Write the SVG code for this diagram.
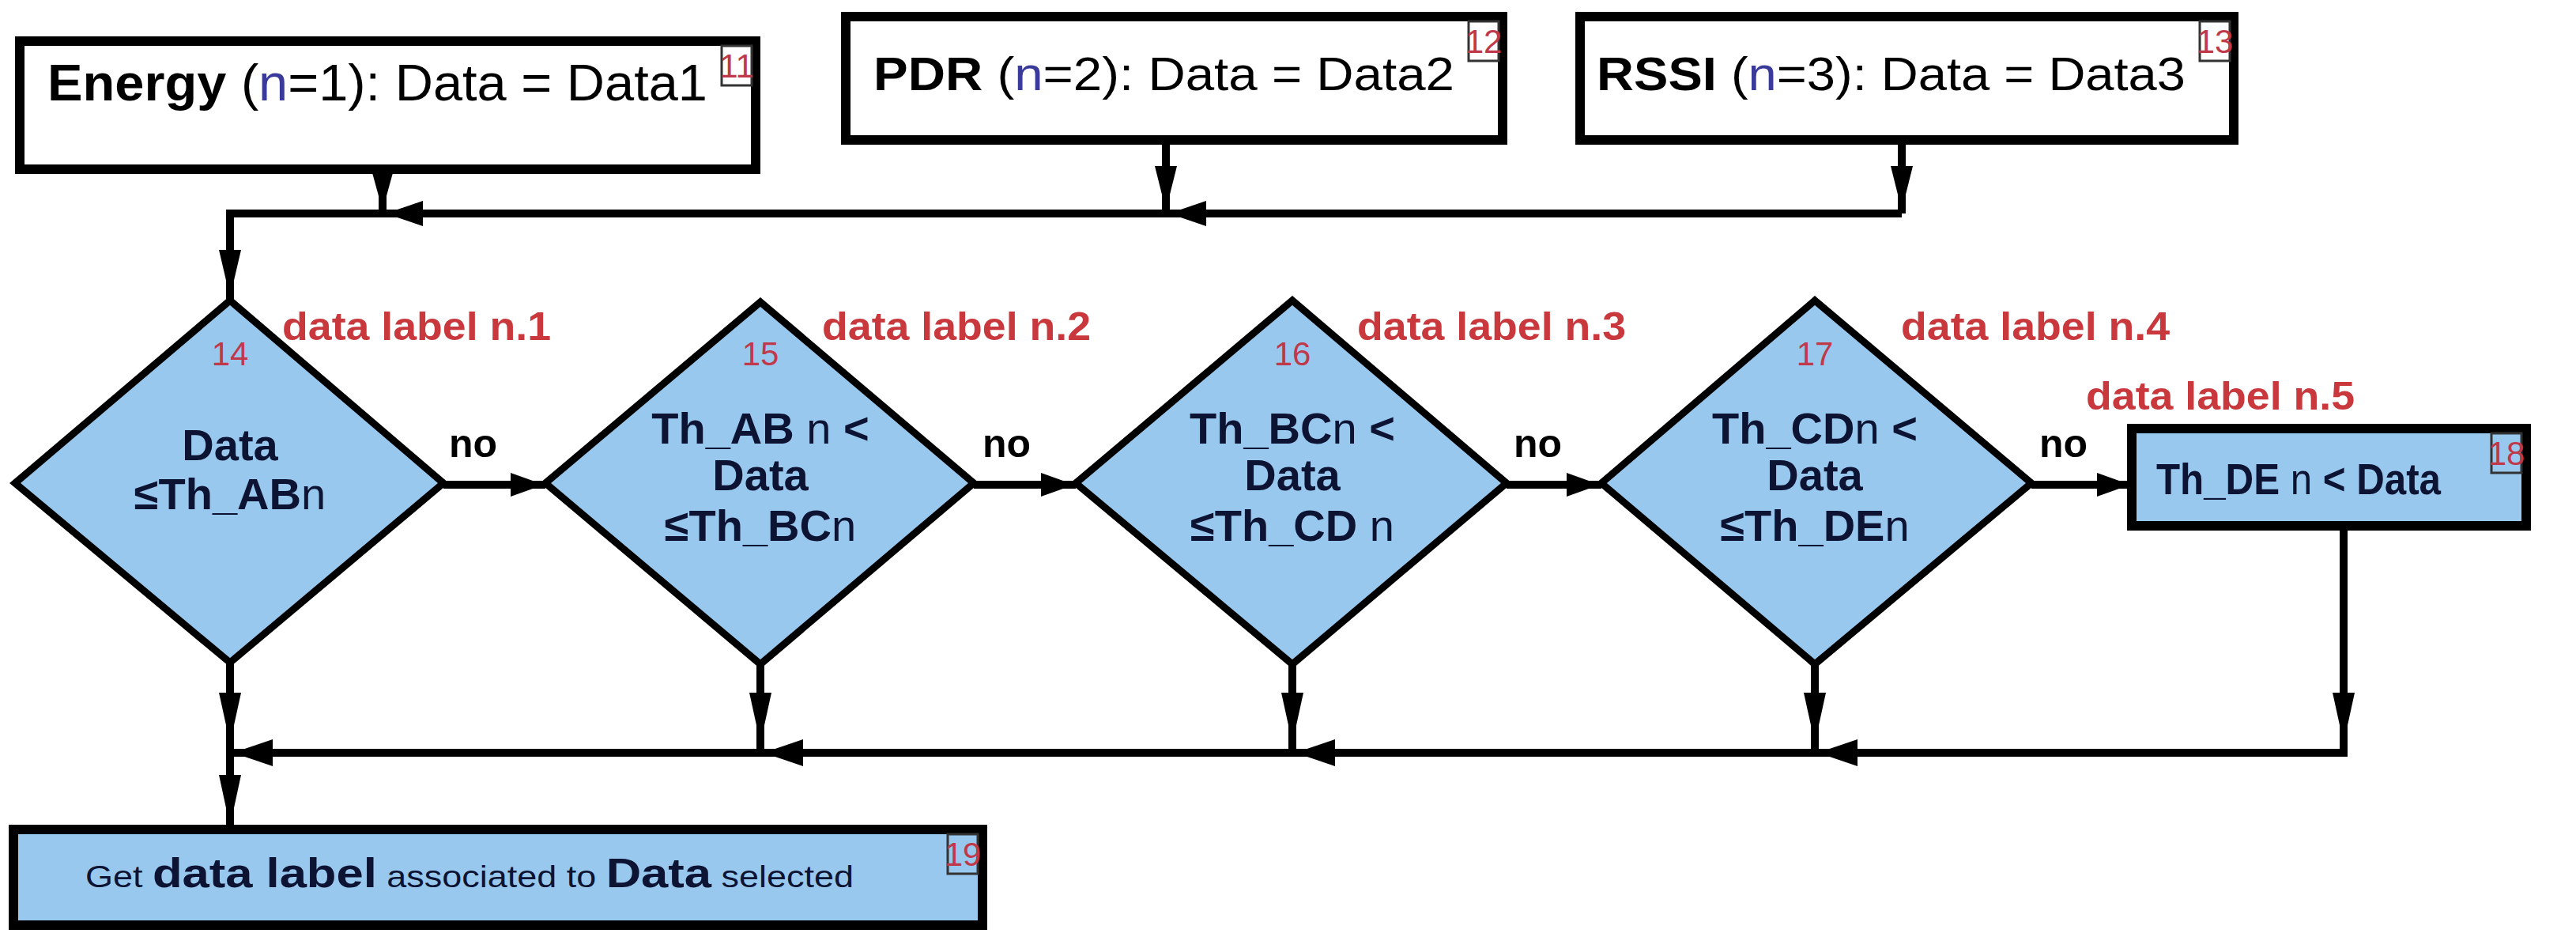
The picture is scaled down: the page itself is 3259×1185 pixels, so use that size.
<svg xmlns="http://www.w3.org/2000/svg" width="3259" height="1185" viewBox="0 0 3259 1185">
<style>
text{font-family:"Liberation Sans",Arial,sans-serif}
.box{fill:#fff;stroke:#000;stroke-width:12}
.bbox{fill:#99c8ee;stroke:#000;stroke-width:12}
.dia{fill:#99c8ee;stroke:#000;stroke-width:9}
.tag{fill:none;stroke:#333;stroke-width:3}
.tn{fill:#c0394a;font-size:42px;text-anchor:middle}
.dl{fill:#c8383c;font-size:50px;font-weight:bold}
.dt{fill:#0d1433;font-size:56px;font-weight:bold;text-anchor:middle}
.dts{fill:#0d1433;font-size:56px;font-weight:bold}
.nb{font-weight:normal}
.no{font-size:50px;font-weight:bold}
.c{fill:none;stroke:#000;stroke-width:10}
.ah{fill:#000}
</style>
<g id="connectors">
<path class="c" d="M484,214 V270 M1475,177 V270 M2406,177 V270 M2406,270 H291 V378"/>
<path class="c" d="M561,613 H690 M1232,613 H1361 M1906,613 H2026 M2570,613 H2697"/>
<path class="c" d="M291,836 V1049 M962,840 V952 M1635,840 V952 M2296,840 V952 M2965,665 V952 H291"/>
<polygon class="ah" points="470,215 498,215 484,266"/>
<polygon class="ah" points="1461,210 1489,210 1475,266"/>
<polygon class="ah" points="2392,210 2420,210 2406,266"/>
<polygon class="ah" points="488,270 535,254 535,286"/>
<polygon class="ah" points="1479,270 1526,254 1526,286"/>
<polygon class="ah" points="277,316 305,316 291,376"/>
<polygon class="ah" points="688,613 646,598 646,628"/>
<polygon class="ah" points="1359,613 1317,598 1317,628"/>
<polygon class="ah" points="2024,613 1982,598 1982,628"/>
<polygon class="ah" points="2695,613 2653,598 2653,628"/>
<polygon class="ah" points="277,876 305,876 291,940"/>
<polygon class="ah" points="948,876 976,876 962,940"/>
<polygon class="ah" points="1621,876 1649,876 1635,940"/>
<polygon class="ah" points="2282,876 2310,876 2296,940"/>
<polygon class="ah" points="2951,876 2979,876 2965,940"/>
<polygon class="ah" points="295,952 345,935 345,969"/>
<polygon class="ah" points="966,952 1016,935 1016,969"/>
<polygon class="ah" points="1639,952 1689,935 1689,969"/>
<polygon class="ah" points="2300,952 2350,935 2350,969"/>
<polygon class="ah" points="277,980 305,980 291,1045"/>
<text class="no" x="568" y="578">no</text>
<text class="no" x="1243" y="578">no</text>
<text class="no" x="1915" y="578">no</text>
<text class="no" x="2580" y="578">no</text>
</g>
<g id="n11">
<rect class="box" x="25" y="52" width="931" height="162"/>
<text x="60" y="127" font-size="64" textLength="835" lengthAdjust="spacingAndGlyphs"><tspan font-weight="bold">Energy</tspan> (<tspan fill="#3a3a9a">n</tspan>=1): Data = Data1</text>
<rect class="tag" x="913" y="58" width="38" height="50"/><text class="tn" x="932" y="98">11</text>
</g>
<g id="n12">
<rect class="box" x="1070" y="21" width="831" height="156"/>
<text x="1105" y="114" font-size="60" textLength="735" lengthAdjust="spacingAndGlyphs"><tspan font-weight="bold">PDR</tspan> (<tspan fill="#3a3a9a">n</tspan>=2): Data = Data2</text>
<rect class="tag" x="1858" y="27" width="38" height="50"/><text class="tn" x="1877" y="67">12</text>
</g>
<g id="n13">
<rect class="box" x="1999" y="21" width="827" height="156"/>
<text x="2020" y="114" font-size="60" textLength="745" lengthAdjust="spacingAndGlyphs"><tspan font-weight="bold">RSSI</tspan> (<tspan fill="#3a3a9a">n</tspan>=3): Data = Data3</text>
<rect class="tag" x="2783" y="27" width="38" height="50"/><text class="tn" x="2802" y="67">13</text>
</g>
<g id="n14">
<path class="dia" d="M291,380 L561,611 L291,838 L19,611 z"/>
<text class="tn" x="291" y="462">14</text>
<text class="dl" x="357" y="430" textLength="340" lengthAdjust="spacingAndGlyphs">data label n.1</text>
<text class="dt" x="291" y="582">Data</text>
<text class="dt" x="291" y="644">≤Th_AB<tspan class="nb">n</tspan></text>
</g>
<g id="n15">
<path class="dia" d="M962,382 L1232,611 L962,840 L690,611 z"/>
<text class="tn" x="962" y="462">15</text>
<text class="dl" x="1040" y="430" textLength="340" lengthAdjust="spacingAndGlyphs">data label n.2</text>
<text class="dt" x="962" y="561">Th_AB<tspan class="nb"> n </tspan>&lt;</text>
<text class="dt" x="962" y="620">Data</text>
<text class="dt" x="962" y="684">≤Th_BC<tspan class="nb">n</tspan></text>
</g>
<g id="n16">
<path class="dia" d="M1635,380 L1906,611 L1635,840 L1361,611 z"/>
<text class="tn" x="1635" y="462">16</text>
<text class="dl" x="1717" y="430" textLength="340" lengthAdjust="spacingAndGlyphs">data label n.3</text>
<text class="dt" x="1635" y="561">Th_BC<tspan class="nb">n </tspan>&lt;</text>
<text class="dt" x="1635" y="620">Data</text>
<text class="dt" x="1635" y="684">≤Th_CD<tspan class="nb"> n</tspan></text>
</g>
<g id="n17">
<path class="dia" d="M2296,380 L2570,611 L2296,840 L2026,611 z"/>
<text class="tn" x="2296" y="462">17</text>
<text class="dl" x="2405" y="430" textLength="340" lengthAdjust="spacingAndGlyphs">data label n.4</text>
<text class="dt" x="2296" y="561">Th_CD<tspan class="nb">n </tspan>&lt;</text>
<text class="dt" x="2296" y="620">Data</text>
<text class="dt" x="2296" y="684">≤Th_DE<tspan class="nb">n</tspan></text>
</g>
<g id="n18">
<text class="dl" x="2639" y="518" textLength="340" lengthAdjust="spacingAndGlyphs">data label n.5</text>
<rect class="bbox" x="2697" y="542" width="499" height="123"/>
<text class="dts" x="2728" y="625" textLength="360" lengthAdjust="spacingAndGlyphs">Th_DE<tspan class="nb"> n </tspan>&lt; Data</text>
<rect class="tag" x="3152" y="548" width="38" height="50"/><text class="tn" x="3171" y="588">18</text>
</g>
<g id="n19">
<rect class="bbox" x="17" y="1049" width="1226" height="121"/>
<text x="108" y="1122" fill="#0d1433" font-size="38" textLength="972" lengthAdjust="spacingAndGlyphs">Get <tspan font-weight="bold" font-size="52">data label</tspan> associated to <tspan font-weight="bold" font-size="52">Data</tspan> selected</text>
<rect class="tag" x="1199" y="1055" width="38" height="50"/><text class="tn" x="1218" y="1095">19</text>
</g>
</svg>
